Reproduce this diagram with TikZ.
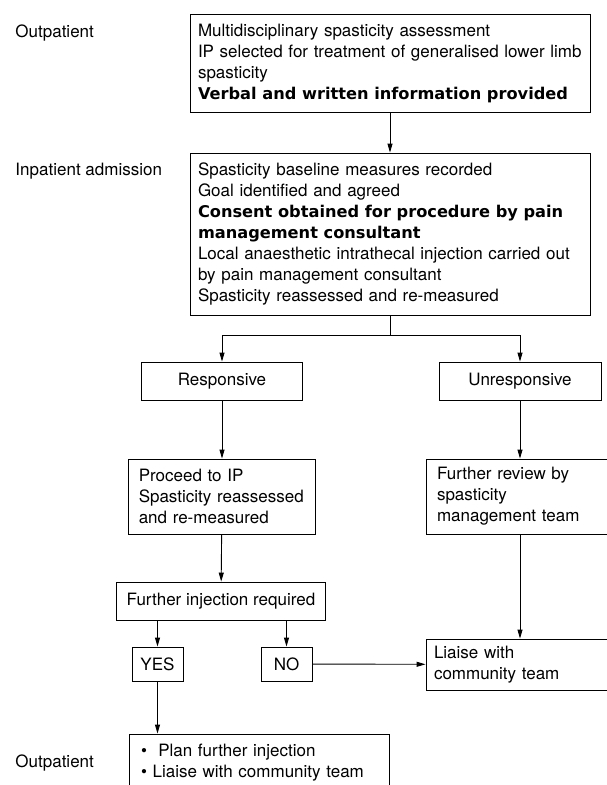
\documentclass[tikz,border=0pt]{standalone}
\usepackage{fontspec}
\setmainfont{TeX Gyre Heros}
\newfontfamily\heavy{DejaVu Sans}
\usepackage{tikz}
\usetikzlibrary{arrows.meta,positioning,calc}
\newcommand{\heavyline}[1]{\mbox{\heavy\bfseries\fontsize{16.2}{21}\selectfont #1}}
\tikzset{%
	stage/.style    = {anchor=base west, inner sep=0pt, font=\fontsize{17}{21}\selectfont},
	infobox/.style  = {draw, rectangle, align=left, inner ysep=0pt, font=\fontsize{17}{21}\selectfont},
	process/.style  = {draw, rectangle, inner sep=0pt, text centered, font=\fontsize{17}{21}\selectfont},
	arrow/.style    = {-{Triangle[length=9pt,width=5pt]}},
}

\begin{document}
\begin{tikzpicture}[x=1pt,y=-1pt,line width=0.9pt]
		\useasboundingbox (0,0) rectangle (607,785);
		\clip (0,0) rectangle (607,785);
		% stages
		\node[stage] (out1) at (15,37) {Outpatient};
		\node[stage] (inp) at (15,175) {Inpatient admission};
		\node[stage] (out2) at (15,767) {Outpatient};
		% boxes
		\node[infobox, inner xsep=8pt, text width=384pt, minimum height=98pt] (assess) at (390,63) {Multidisciplinary spasticity assessment\\ IP selected for treatment of generalised lower limb\\ spasticity\\ \heavyline{Verbal and written information provided}};
		\node[infobox, inner xsep=8pt, text width=384pt, minimum height=162pt] (admit) at (390,234) {Spasticity baseline measures recorded\\ Goal identified and agreed\\ \heavyline{Consent obtained for procedure by pain}\\ \heavyline{management consultant}\\ Local anaesthetic intrathecal injection carried out\\ by pain management consultant\\ Spasticity reassessed and re-measured};
		\node[process, minimum width=161.5pt, minimum height=38pt] (resp) at (222,381) {Responsive};
		\node[process, minimum width=162pt, minimum height=38pt] (unresp) at (520,381) {Unresponsive};
		\node[infobox, inner xsep=10pt, text width=166.5pt, minimum height=75pt] (proceed) at (222,496.5) {Proceed to IP\\ Spasticity reassessed\\ and re-measured};
		\node[infobox, inner xsep=11pt, text width=166pt, minimum height=75pt] (review) at (520,496.5) {Further review by\\ spasticity\\ management team};
		\node[process, minimum width=209.6pt, minimum height=38pt] (inj) at (221,601) {Further injection required};
		\node[process, minimum width=51pt, minimum height=34pt] (yes) at (157.5,664) {YES};
		\node[process, minimum width=51pt, minimum height=34pt] (no) at (286.5,664) {NO};
		\node[infobox, inner xsep=8pt, text width=172pt, minimum height=51pt] (liaise) at (520,664.5) {Liaise with\\ community team};
		\node[infobox, inner xsep=12pt, text width=236pt, minimum height=58pt] (plan) at (259,763) {\textbullet\ \ Plan further injection\\ \textbullet\ Liaise with community team};
		% connectors
		\draw[arrow] (assess) -- (admit);
		\draw (admit.south) -- ++(0,20) coordinate (split);
		\draw[arrow] (split) -| (resp.north);
		\draw[arrow] (split) -| (unresp.north);
		\draw[arrow] (resp) -- (proceed);
		\draw[arrow] (unresp) -- (review);
		\draw[arrow] (proceed) -- (inj);
		\draw[arrow] (yes.north |- inj.south) -- (yes);
		\draw[arrow] (no.north |- inj.south) -- (no);
		\draw[arrow] (no) -- (liaise);
		\draw[arrow] (review) -- (liaise);
		\draw[arrow] (yes) -- (yes |- plan.north);
	\end{tikzpicture}
\end{document}
